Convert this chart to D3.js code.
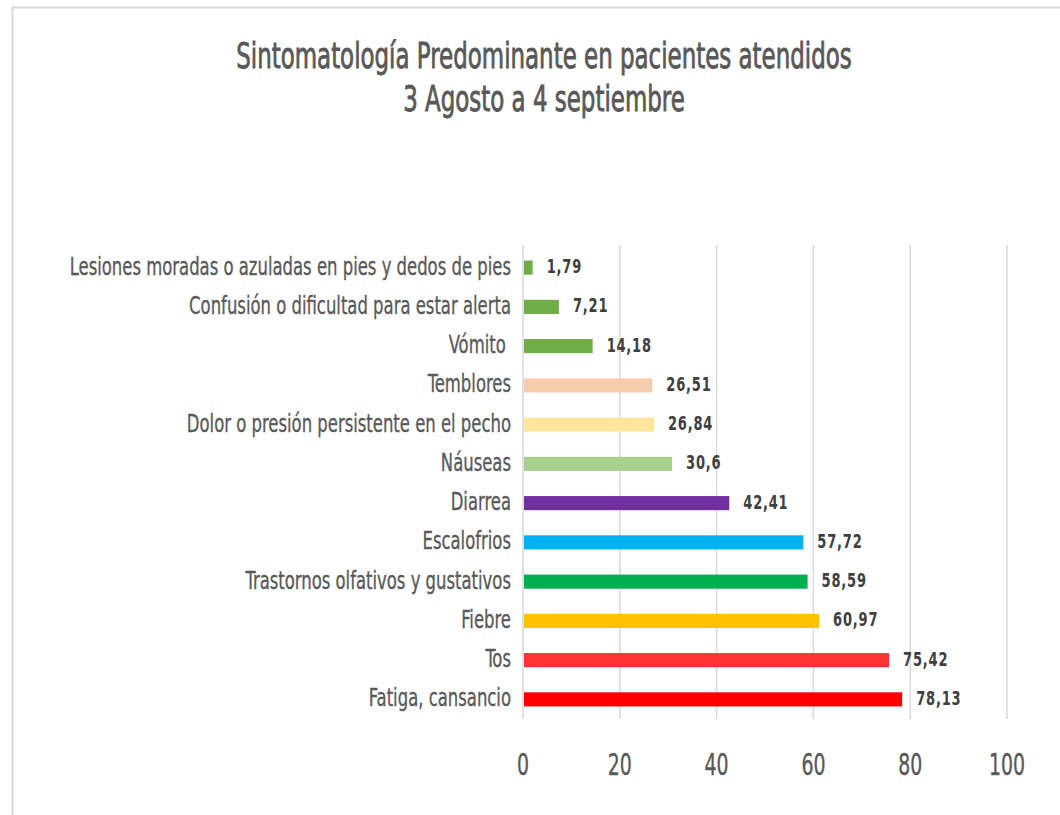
<!DOCTYPE html>
<html>
<head>
<meta charset="utf-8">
<script src="https://cdn.jsdelivr.net/npm/d3@7"></script>
<style>
  body { margin: 0; background: #fff; }
  text { font-family: "DejaVu Sans Condensed", "DejaVu Sans", sans-serif; font-stretch: condensed; }
</style>
</head>
<body>
<div id="chart"></div>
<script>
// DATA (top to bottom as shown)
const categories = [
  "Lesiones moradas o azuladas en pies y dedos de pies",
  "Confusión o dificultad para estar alerta",
  "Vómito\u00A0",
  "Temblores",
  "Dolor o presión persistente en el pecho",
  "Náuseas",
  "Diarrea",
  "Escalofrios",
  "Trastornos olfativos y gustativos",
  "Fiebre",
  "Tos",
  "Fatiga, cansancio"
];
const values = [1.79, 7.21, 14.18, 26.51, 26.84, 30.6, 42.41, 57.72, 58.59, 60.97, 75.42, 78.13];
const valueLabels = ["1,79", "7,21", "14,18", "26,51", "26,84", "30,6", "42,41", "57,72", "58,59", "60,97", "75,42", "78,13"];
const barColors = [
  "#70AD47", "#70AD47", "#70AD47", "#F8CBAD", "#FFE699", "#A9D18E",
  "#7030A0", "#00B0F0", "#00B050", "#FFC000", "#FF3333", "#FF0000"
];
const xTicks = [0, 20, 40, 60, 80, 100];
const titleLines = ["Sintomatología Predominante en pacientes atendidos", "3 Agosto a 4 septiembre"];

const W = 1060, H = 815;
const MARGIN = { TOP: 248, LEFT: 523, RIGHT: 53, BOTTOM: 96 };
const WIDTH = W - MARGIN.LEFT - MARGIN.RIGHT;
const HEIGHT = H - MARGIN.TOP - MARGIN.BOTTOM;
const SY = 1.4; // vertical stretch of the text, like the source image

const svg = d3.select("#chart").append("svg")
  .attr("width", W)
  .attr("height", H);

// chart frame (only top and left edges visible)
svg.append("path")
  .attr("d", `M12.5,${H} V7.5 H${W}`)
  .attr("fill", "none")
  .attr("stroke", "#d9d9d9")
  .attr("stroke-width", 2);

// stretched text helper
function stretchedText(parent, x, y, str) {
  return parent.append("g")
    .attr("transform", `translate(${x},${y}) scale(1,${SY})`)
    .append("text")
    .text(str);
}

// TITLE
titleLines.forEach((t, i) => {
  stretchedText(svg, 544, 68 + i * 43, t)
    .attr("text-anchor", "middle")
    .attr("font-size", 25.5)
    .attr("fill", "#595959")
    .attr("stroke", "#595959")
    .attr("stroke-width", 0.6);
});

const g = svg.append("g")
  .attr("transform", `translate(${MARGIN.LEFT},${MARGIN.TOP})`);

const x = d3.scaleLinear().domain([0, 100]).range([0, WIDTH]);
const y = d3.scaleBand().domain(categories).range([0, HEIGHT]).paddingInner(0.64).paddingOuter(0.32);

// gridlines
g.selectAll(".grid")
  .data(xTicks)
  .enter()
  .append("line")
  .attr("class", "grid")
  .attr("x1", d => x(d)).attr("x2", d => x(d))
  .attr("y1", -3).attr("y2", HEIGHT)
  .attr("stroke", "#d9d9d9")
  .attr("stroke-width", 1.5);

// bars
g.selectAll(".bar")
  .data(values)
  .enter()
  .append("rect")
  .attr("class", "bar")
  .attr("x", x(0) + 1)
  .attr("y", (d, i) => y(categories[i]))
  .attr("width", d => x(d) - x(0))
  .attr("height", y.bandwidth())
  .attr("fill", (d, i) => barColors[i]);

// category labels
categories.forEach((c, i) => {
  stretchedText(g, -12, y(c) + y.bandwidth() / 2 + 7, c)
    .attr("text-anchor", "end")
    .attr("font-size", 18.3)
    .attr("fill", "#595959")
    .attr("stroke", "#595959")
    .attr("stroke-width", 0.25);
});

// value labels
values.forEach((v, i) => {
  stretchedText(g, x(v) + 15, y(categories[i]) + y.bandwidth() / 2 + 5.5, valueLabels[i])
    .attr("font-size", 14.5)
    .attr("font-weight", "bold")
    .attr("letter-spacing", 0.8)
    .attr("fill", "#404040");
});

// x axis tick labels
xTicks.forEach(t => {
  stretchedText(g, x(t), HEIGHT + 56, String(t))
    .attr("text-anchor", "middle")
    .attr("font-size", 21)
    .attr("fill", "#595959")
    .attr("stroke", "#595959")
    .attr("stroke-width", 0.3);
});
</script>
</body>
</html>
